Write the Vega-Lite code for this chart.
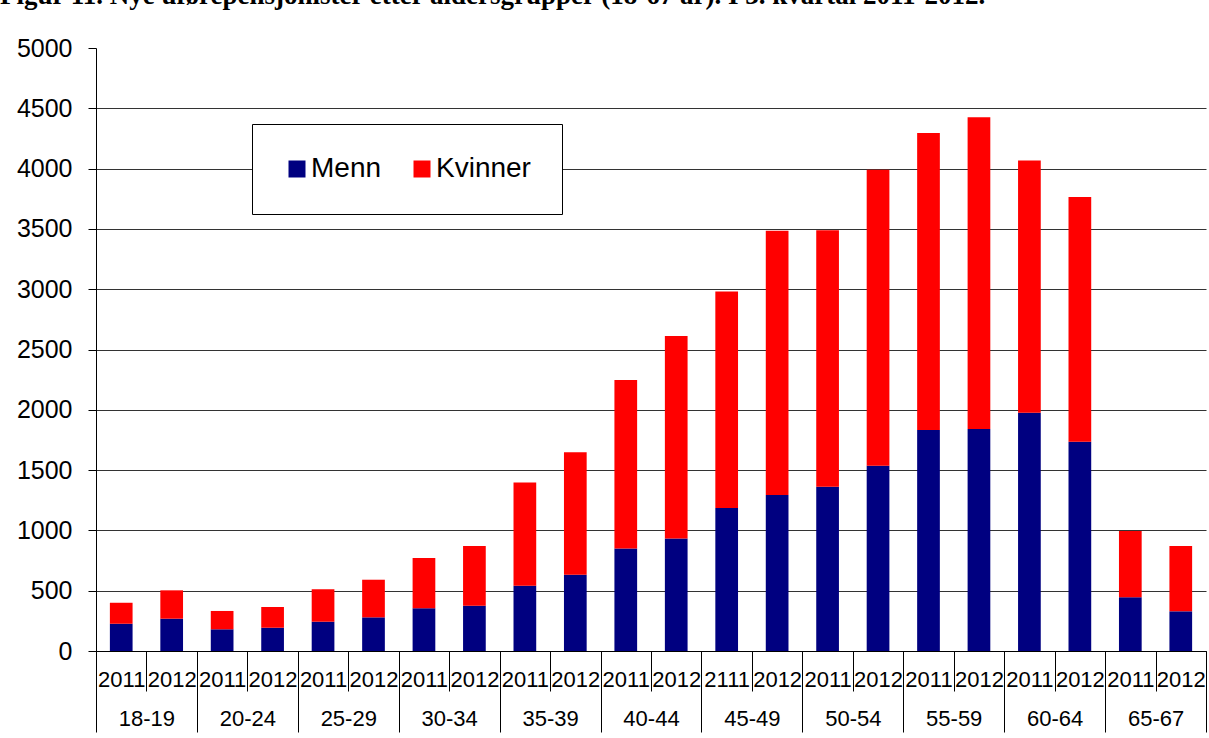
{
  "$schema": "https://vega.github.io/schema/vega-lite/v6.json",
  "width": 1110,
  "height": 603,
  "autosize": {"type": "none"},
  "padding": {"left": 96, "top": 48, "right": 3, "bottom": 87},
  "background": "white",
  "title": {
    "text": "Figur 11. Nye uførepensjonister etter aldersgrupper (18-67 år). I 3. kvartal 2011-2012.",
    "anchor": "start",
    "frame": "group",
    "font": "Liberation Serif",
    "fontWeight": "bold",
    "fontSize": 27,
    "color": "black",
    "baseline": "alphabetic",
    "offset": 5,
    "dx": -96,
    "limit": 3000
  },
  "config": {
    "view": {"stroke": null},
    "font": "Liberation Sans"
  },
  "data": {
    "values": [
      {"group": "18-19", "year": "2011", "bar": "18-19 2011", "sex": "Menn", "n": 226},
      {"group": "18-19", "year": "2011", "bar": "18-19 2011", "sex": "Kvinner", "n": 174},
      {"group": "18-19", "year": "2012", "bar": "18-19 2012", "sex": "Menn", "n": 268},
      {"group": "18-19", "year": "2012", "bar": "18-19 2012", "sex": "Kvinner", "n": 235},
      {"group": "20-24", "year": "2011", "bar": "20-24 2011", "sex": "Menn", "n": 180},
      {"group": "20-24", "year": "2011", "bar": "20-24 2011", "sex": "Kvinner", "n": 152},
      {"group": "20-24", "year": "2012", "bar": "20-24 2012", "sex": "Menn", "n": 193},
      {"group": "20-24", "year": "2012", "bar": "20-24 2012", "sex": "Kvinner", "n": 172},
      {"group": "25-29", "year": "2011", "bar": "25-29 2011", "sex": "Menn", "n": 243},
      {"group": "25-29", "year": "2011", "bar": "25-29 2011", "sex": "Kvinner", "n": 269},
      {"group": "25-29", "year": "2012", "bar": "25-29 2012", "sex": "Menn", "n": 279},
      {"group": "25-29", "year": "2012", "bar": "25-29 2012", "sex": "Kvinner", "n": 312},
      {"group": "30-34", "year": "2011", "bar": "30-34 2011", "sex": "Menn", "n": 354},
      {"group": "30-34", "year": "2011", "bar": "30-34 2011", "sex": "Kvinner", "n": 417},
      {"group": "30-34", "year": "2012", "bar": "30-34 2012", "sex": "Menn", "n": 376},
      {"group": "30-34", "year": "2012", "bar": "30-34 2012", "sex": "Kvinner", "n": 495},
      {"group": "35-39", "year": "2011", "bar": "35-39 2011", "sex": "Menn", "n": 541},
      {"group": "35-39", "year": "2011", "bar": "35-39 2011", "sex": "Kvinner", "n": 856},
      {"group": "35-39", "year": "2012", "bar": "35-39 2012", "sex": "Menn", "n": 633},
      {"group": "35-39", "year": "2012", "bar": "35-39 2012", "sex": "Kvinner", "n": 1014},
      {"group": "40-44", "year": "2011", "bar": "40-44 2011", "sex": "Menn", "n": 850},
      {"group": "40-44", "year": "2011", "bar": "40-44 2011", "sex": "Kvinner", "n": 1397},
      {"group": "40-44", "year": "2012", "bar": "40-44 2012", "sex": "Menn", "n": 933},
      {"group": "40-44", "year": "2012", "bar": "40-44 2012", "sex": "Kvinner", "n": 1679},
      {"group": "45-49", "year": "2111", "bar": "45-49 2111", "sex": "Menn", "n": 1186},
      {"group": "45-49", "year": "2111", "bar": "45-49 2111", "sex": "Kvinner", "n": 1794},
      {"group": "45-49", "year": "2012", "bar": "45-49 2012", "sex": "Menn", "n": 1294},
      {"group": "45-49", "year": "2012", "bar": "45-49 2012", "sex": "Kvinner", "n": 2191},
      {"group": "50-54", "year": "2011", "bar": "50-54 2011", "sex": "Menn", "n": 1361},
      {"group": "50-54", "year": "2011", "bar": "50-54 2011", "sex": "Kvinner", "n": 2127},
      {"group": "50-54", "year": "2012", "bar": "50-54 2012", "sex": "Menn", "n": 1537},
      {"group": "50-54", "year": "2012", "bar": "50-54 2012", "sex": "Kvinner", "n": 2453},
      {"group": "55-59", "year": "2011", "bar": "55-59 2011", "sex": "Menn", "n": 1832},
      {"group": "55-59", "year": "2011", "bar": "55-59 2011", "sex": "Kvinner", "n": 2464},
      {"group": "55-59", "year": "2012", "bar": "55-59 2012", "sex": "Menn", "n": 1841},
      {"group": "55-59", "year": "2012", "bar": "55-59 2012", "sex": "Kvinner", "n": 2585},
      {"group": "60-64", "year": "2011", "bar": "60-64 2011", "sex": "Menn", "n": 1976},
      {"group": "60-64", "year": "2011", "bar": "60-64 2011", "sex": "Kvinner", "n": 2091},
      {"group": "60-64", "year": "2012", "bar": "60-64 2012", "sex": "Menn", "n": 1736},
      {"group": "60-64", "year": "2012", "bar": "60-64 2012", "sex": "Kvinner", "n": 2028},
      {"group": "65-67", "year": "2011", "bar": "65-67 2011", "sex": "Menn", "n": 445},
      {"group": "65-67", "year": "2011", "bar": "65-67 2011", "sex": "Kvinner", "n": 550},
      {"group": "65-67", "year": "2012", "bar": "65-67 2012", "sex": "Menn", "n": 329},
      {"group": "65-67", "year": "2012", "bar": "65-67 2012", "sex": "Kvinner", "n": 541}
    ]
  },
  "layer": [
    {
      "mark": {"type": "bar", "width": {"band": 0.45}},
      "encoding": {
        "x": {
          "field": "bar",
          "type": "nominal",
          "sort": null,
          "scale": {"paddingInner": 0, "paddingOuter": 0},
          "axis": {
            "orient": "bottom",
            "title": null,
            "labelExpr": "slice(datum.label, -4)",
            "labelAngle": 0,
            "labelFontSize": 22,
            "labelColor": "black",
            "labelFont": "Liberation Sans",
            "labelOverlap": false,
            "labelBound": false,
            "labelFlush": false,
            "labelPadding": -22,
            "tickBand": "extent",
            "tickSize": 40,
            "tickColor": "black",
            "tickWidth": 1,
            "domainColor": "black",
            "domainWidth": 1
          }
        },
        "y": {
          "field": "n",
          "type": "quantitative",
          "aggregate": "sum",
          "stack": "zero",
          "scale": {"domain": [0, 5000], "nice": false},
          "axis": {
            "title": null,
            "format": "d",
            "values": [0, 500, 1000, 1500, 2000, 2500, 3000, 3500, 4000, 4500, 5000],
            "labelFontSize": 25,
            "labelColor": "black",
            "labelFont": "Liberation Sans",
            "labelPadding": 16,
            "tickSize": 8,
            "tickColor": "black",
            "domainColor": "black",
            "grid": true,
            "gridColor": "#333333",
            "gridOpacity": {"condition": {"test": "datum.value === 5000", "value": 0}, "value": 1}
          }
        },
        "color": {
          "field": "sex",
          "type": "nominal",
          "scale": {"domain": ["Menn", "Kvinner"], "range": ["#000080", "#FF0000"]},
          "legend": {
            "title": null,
            "orient": "none",
            "legendX": 156,
            "legendY": 76,
            "direction": "horizontal",
            "symbolType": "square",
            "symbolSize": 289,
            "symbolStrokeWidth": 0,
            "symbolOffset": 0,
            "labelFontSize": 28,
            "labelFont": "Liberation Sans",
            "labelColor": "black",
            "labelOffset": 0,
            "columnPadding": 26,
            "padding": 31,
            "strokeColor": "black",
            "fillColor": "white"
          }
        },
        "order": {"field": "sex", "sort": "descending"}
      }
    },
    {
      "mark": {"type": "point", "opacity": 0},
      "encoding": {
        "x": {
          "field": "group",
          "type": "nominal",
          "sort": null,
          "scale": {"paddingInner": 0, "paddingOuter": 0},
          "axis": {
            "orient": "bottom",
            "title": null,
            "labelAngle": 0,
            "labelFontSize": 22,
            "labelColor": "black",
            "labelFont": "Liberation Sans",
            "labelPadding": -24,
            "tickBand": "extent",
            "tickSize": 81,
            "tickColor": "black",
            "domain": false,
            "labelOverlap": false
          }
        }
      }
    }
  ],
  "resolve": {"scale": {"x": "independent"}, "axis": {"x": "independent"}}
}
